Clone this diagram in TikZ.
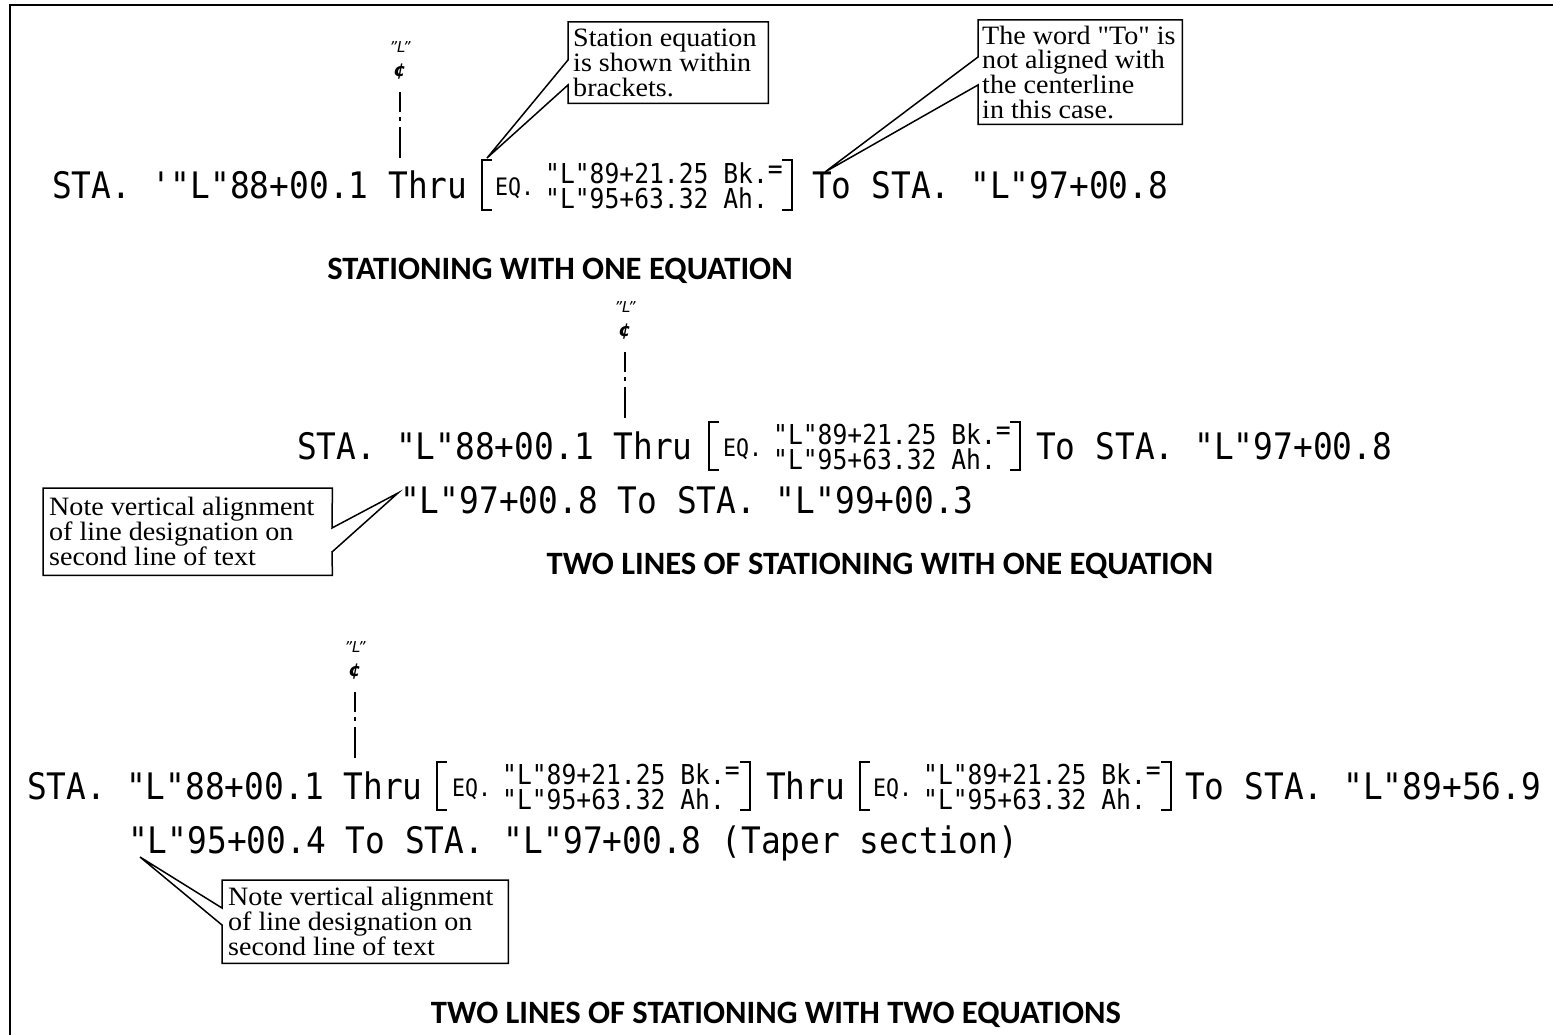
\documentclass[tikz,border=0pt]{standalone}
\usepackage{fontspec}
\setmonofont{DejaVu Sans Mono}[FakeStretch=0.9]
\newfontfamily\titlefont{Carlito}
\newfontfamily\clfont{DejaVu Sans}
\newfontfamily\notefont{Liberation Serif}[Ligatures=TeXOff, FakeStretch=1.06]
\begin{document}
\begin{tikzpicture}[x=1pt,y=-1pt,
  mono/.style={anchor=base west, inner sep=0pt, font=\ttfamily\fontsize{36.5}{40}\selectfont},
  eqsm/.style={anchor=base west, inner sep=0pt, font=\ttfamily\fontsize{27.4}{30}\selectfont},
  eqlab/.style={anchor=base west, inner sep=0pt, font=\ttfamily\fontsize{24}{26}\selectfont},
  ttl/.style={inner sep=0pt, font=\titlefont\bfseries\fontsize{32.6}{35}\selectfont},
  notebox/.style={anchor=north west, inner sep=0pt},
  notetext/.style={anchor=west, inner sep=0pt, align=left,
    font=\notefont\fontsize{26.5}{24.8}\selectfont},
  callout/.style={line width=1.5pt, line join=miter},
  brk/.style={line width=2pt},
  clline/.style={line width=2pt},
  cltext/.style={inner sep=0pt, font=\clfont\itshape\fontsize{15}{16}\selectfont},
  clsym/.style={inner sep=0pt, font=\clfont\bfseries\itshape\fontsize{18}{19}\selectfont}]
\useasboundingbox (0,0) rectangle (1553,1035);
% frame
\draw[line width=2pt] (10,1045) -- (10,5) -- (1560,5);

% centerline marks
\foreach \n/\x/\y in {a/400/92, b/625/352, c/355/692}{
  \node[cltext] (cll\n) at (\x,\y-45) {”L”};
  \node[clsym] (cls\n) at (\x,\y-20) {¢};
  \draw[clline] (\x,\y) -- (\x,\y+20);
  \draw[clline] (\x,\y+25) -- (\x,\y+29);
  \draw[clline] (\x,\y+35) -- (\x,\y+66);
}

% ---------- Row 1
\node[mono] (r1a) at (52,199) {STA. '"L"88+00.1 Thru};
\draw[brk] (492,160) -- (482,160) -- (482,210) -- (492,210);
\node[eqlab] (r1eq) at (495,196) {EQ.};
\node[eqsm] (r1e1) at (545,184) {"L"89+21.25 Bk.\raisebox{5pt}{=}};
\node[eqsm] (r1e2) at (545,209) {"L"95+63.32 Ah.};
\draw[brk] (782,160) -- (792,160) -- (792,210) -- (782,210);
\node[mono] (r1b) at (812,199) {To STA. "L"97+00.8};
\node[ttl] (t1) at (560,271) {STATIONING WITH ONE EQUATION};

% callout 1
\node[notebox, minimum width=200pt, minimum height=81pt] (c1) at (568,22) {};
\node[notetext] (c1x) at ([xshift=5pt]c1.west) {Station equation\\is shown within\\brackets.};
\coordinate (c1a) at (568,60);
\coordinate (c1b) at (568,85);
\coordinate (c1t) at (487,158);
\draw[callout] (c1b) -- (c1.south west) -- (c1.south east) -- (c1.north east)
  -- (c1.north west) -- (c1a) -- (c1t) -- cycle;

% callout 2
\node[notebox, minimum width=204pt, minimum height=104pt] (c2) at (978,20) {};
\node[notetext] (c2x) at ([xshift=4pt]c2.west) {The word "To" is\\not aligned with\\the centerline\\in this case.};
\coordinate (c2a) at (978,57);
\coordinate (c2b) at (978,85);
\coordinate (c2t) at (825,172);
\draw[callout] (c2b) -- (c2.south west) -- (c2.south east) -- (c2.north east)
  -- (c2.north west) -- (c2a) -- (c2t) -- cycle;

% ---------- Row 2
\node[mono] (r2a) at (297,459) {STA. "L"88+00.1 Thru};
\draw[brk] (719,422) -- (709,422) -- (709,470) -- (719,470);
\node[eqlab] (r2eq) at (723,456) {EQ.};
\node[eqsm] (r2e1) at (773,444) {"L"89+21.25 Bk.\raisebox{5pt}{=}};
\node[eqsm] (r2e2) at (773,469) {"L"95+63.32 Ah.};
\draw[brk] (1010,422) -- (1020,422) -- (1020,470) -- (1010,470);
\node[mono] (r2b) at (1036,459) {To STA. "L"97+00.8};
\node[mono] (r2c) at (400,513) {"L"97+00.8 To STA. "L"99+00.3};
\node[ttl] (t2) at (880,566) {TWO LINES OF STATIONING WITH ONE EQUATION};

% callout 3
\node[notebox, minimum width=289pt, minimum height=87pt] (c3) at (43,488) {};
\node[notetext] (c3x) at ([xshift=6pt]c3.west) {Note vertical alignment\\of line designation on\\second line of text};
\coordinate (c3a) at (332,528);
\coordinate (c3b) at (332,552);
\coordinate (c3t) at (398,493);
\draw[callout] (c3a) -- (c3.north east) -- (c3.north west) -- (c3.south west)
  -- (c3.south east) -- (c3b) -- (c3t) -- cycle;

% ---------- Row 3
\node[mono] (r3a) at (27,799) {STA. "L"88+00.1 Thru};
\draw[brk] (447,762) -- (437,762) -- (437,810) -- (447,810);
\node[eqlab] (r3eq1) at (452,796) {EQ.};
\node[eqsm] (r3e1) at (502,784) {"L"89+21.25 Bk.\raisebox{5pt}{=}};
\node[eqsm] (r3e2) at (502,809) {"L"95+63.32 Ah.};
\draw[brk] (740,762) -- (750,762) -- (750,810) -- (740,810);
\node[mono] (r3b) at (766,799) {Thru};
\draw[brk] (870,762) -- (860,762) -- (860,810) -- (870,810);
\node[eqlab] (r3eq2) at (873,796) {EQ.};
\node[eqsm] (r3e3) at (923,784) {"L"89+21.25 Bk.\raisebox{5pt}{=}};
\node[eqsm] (r3e4) at (923,809) {"L"95+63.32 Ah.};
\draw[brk] (1161,762) -- (1171,762) -- (1171,810) -- (1161,810);
\node[mono] (r3c) at (1185,799) {To STA. "L"89+56.9};
\node[mono] (r3d) at (128,853) {"L"95+00.4 To STA. "L"97+00.8 (Taper section)};

% callout 4
\node[notebox, minimum width=286pt, minimum height=83pt] (c4) at (222,880) {};
\node[notetext] (c4x) at ([xshift=6pt]c4.west) {Note vertical alignment\\of line designation on\\second line of text};
\coordinate (c4a) at (222,908);
\coordinate (c4b) at (222,925);
\coordinate (c4t) at (140,857);
\draw[callout] (c4b) -- (c4.south west) -- (c4.south east) -- (c4.north east)
  -- (c4.north west) -- (c4a) -- (c4t) -- cycle;

\node[ttl] (t3) at (776,1015) {TWO LINES OF STATIONING WITH TWO EQUATIONS};
\end{tikzpicture}
\end{document}
